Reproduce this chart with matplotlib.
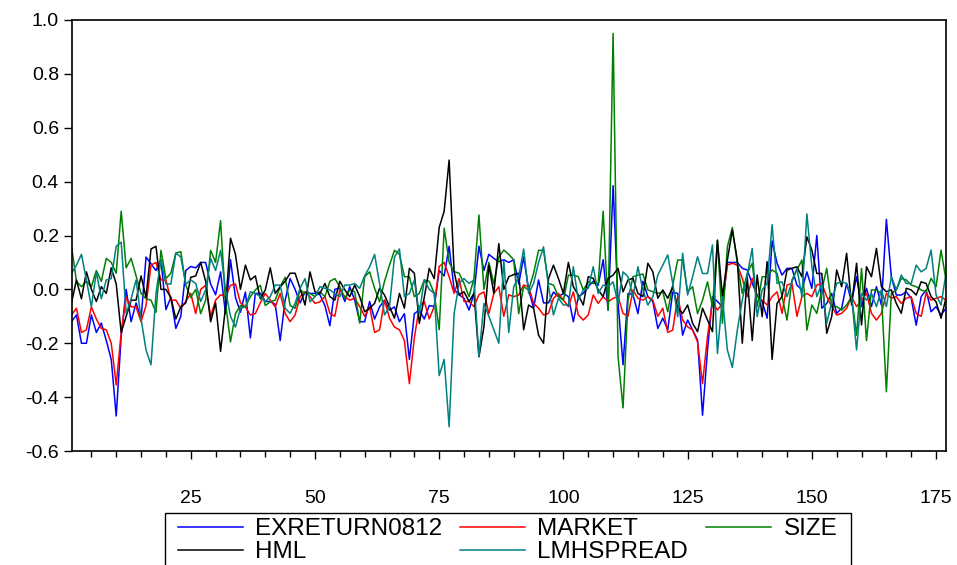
import numpy as np
import matplotlib
matplotlib.use("Agg")
import matplotlib.pyplot as plt
from matplotlib.ticker import MultipleLocator, FormatStrFormatter
from matplotlib.patches import Rectangle

plt.rcParams['font.family'] = ['Liberation Sans', 'DejaVu Sans']

exreturn0812 = [
    -0.12, -0.095, -0.20, -0.20, -0.095, -0.16, -0.125, -0.19, -0.26, -0.47, -0.175, 0.0, -0.12, -0.05, -0.11, 0.12, 0.095, 0.07, 0.11, -0.075, -0.03, -0.145,
    -0.10, 0.07, 0.085, 0.08, 0.10, 0.10, 0.02, -0.02, 0.065, -0.09, 0.11, -0.03, -0.085, -0.01, -0.18, -0.015, -0.015, -0.045, -0.045, -0.055, -0.19, -0.04,
    0.04, 0.0, -0.05, -0.01, -0.015, -0.015, -0.02, -0.06, -0.135, 0.0, 0.005, -0.045, 0.01, -0.04, -0.12, -0.12, -0.045, -0.11, -0.065, -0.04, -0.077, -0.065,
    -0.12, -0.09, -0.26, -0.09, -0.077, -0.11, -0.06, -0.064, 0.07, 0.05, 0.16, 0.0, -0.02, -0.033, -0.077, -0.015, 0.16, 0.07, 0.13, 0.115, 0.103, 0.11, 0.10,
    0.11, 0.02, 0.12, 0.0, -0.07, 0.035, -0.05, -0.05, -0.01, -0.027, -0.015, -0.027, -0.12, -0.027, -0.015, 0.01, 0.03, 0.015, 0.11, -0.077, 0.385, -0.05,
    -0.28, -0.015, -0.02, -0.09, 0.03, -0.027, -0.045, -0.145, -0.107, -0.15, -0.01, -0.015, -0.17, -0.114, -0.15, -0.188, -0.467, -0.225, -0.027, -0.045, -0.064, 0.10,
    0.10, 0.10, 0.078, 0.072, 0.022, -0.021, -0.045, -0.107, 0.18, 0.097, 0.053, 0.078, 0.078, 0.016, -0.002, 0.065, 0.004, 0.20, -0.07, -0.052, -0.015, -0.089,
    -0.07, 0.022, -0.046, 0.047, -0.064, 0.004, -0.064, 0.01, -0.058, 0.26, 0.047, -0.021, -0.021, -0.009, -0.033, -0.133, -0.027, -0.002, -0.083, -0.064, -0.095, -0.07,
]

market = [
    -0.095, -0.07, -0.16, -0.15, -0.065, -0.11, -0.145, -0.15, -0.20, -0.355, -0.16, -0.03, -0.065, -0.065, -0.12, -0.06, 0.09, 0.10, 0.035, 0.035, -0.04, -0.04,
    -0.07, -0.045, -0.015, -0.09, 0.0, 0.015, -0.10, -0.04, -0.02, -0.027, 0.015, 0.02, -0.05, -0.065, -0.095, -0.09, -0.05, -0.015, -0.04, -0.065, -0.015, -0.09,
    -0.12, -0.095, -0.027, -0.009, -0.027, -0.052, -0.046, -0.027, -0.089, -0.10, 0.0, -0.027, -0.04, -0.033, -0.064, -0.10, -0.064, -0.16, -0.15, -0.04, -0.107, -0.14,
    -0.15, -0.19, -0.35, -0.18, -0.064, -0.045, -0.11, -0.064, 0.085, 0.10, 0.047, -0.015, 0.04, -0.045, -0.045, -0.064, -0.02, -0.009, -0.09, -0.015, 0.01, -0.10, -0.02,
    -0.027, -0.021, 0.016, 0.01, -0.052, -0.07, -0.095, -0.089, -0.033, -0.015, -0.04, -0.064, -0.009, -0.095, -0.114, -0.095, -0.021, -0.052, -0.027, -0.046, -0.033, -0.027,
    -0.089, -0.10, -0.002, -0.033, -0.04, -0.027, -0.04, -0.10, -0.07, -0.16, -0.151, -0.027, -0.114, -0.139, -0.151, -0.195, -0.35, -0.175, -0.046, -0.077, -0.052, 0.09,
    0.097, 0.09, 0.041, -0.027, 0.041, -0.027, -0.04, -0.058, -0.027, -0.009, -0.089, 0.016, 0.022, -0.10, -0.027, -0.015, -0.027, 0.016, 0.022, -0.027, -0.064, -0.095,
    -0.089, -0.07, -0.027, -0.064, -0.04, -0.015, -0.089, -0.114, -0.089, -0.015, -0.033, -0.027, -0.052, -0.033, -0.027, -0.089, -0.10, -0.015, -0.04, -0.033, -0.027, -0.04,
]

size = [
    0.16, 0.03, 0.01, 0.03, 0.01, 0.07, 0.03, 0.115, 0.10, 0.06, 0.29, 0.08, 0.115, 0.05, -0.015, -0.035, -0.04, -0.085, 0.145, 0.04, 0.06, 0.135,
    0.14, 0.015, -0.03, 0.0, -0.09, -0.04, 0.145, 0.10, 0.255, -0.05, -0.195, -0.09, -0.06, -0.065, -0.027, -0.002, 0.015, -0.06, -0.046, -0.04, 0.01, 0.045,
    -0.06, -0.07, -0.002, -0.015, -0.015, -0.027, -0.009, -0.027, 0.03, 0.04, 0.01, -0.033, -0.002, -0.009, -0.125, 0.047, 0.065, 0.004, -0.046, 0.03, 0.09, 0.145,
    0.13, 0.047, 0.047, -0.027, -0.015, 0.035, 0.03, -0.015, -0.15, 0.227, 0.10, 0.066, 0.06, 0.022, -0.027, 0.04, 0.276, 0.0, 0.10, 0.02, 0.12, 0.146, 0.13,
    0.11, -0.09, 0.01, -0.002, 0.06, 0.145, 0.145, 0.022, 0.016, -0.027, -0.04, 0.053, 0.053, 0.047, -0.002, 0.028, 0.022, 0.022, 0.29, -0.077, 0.95, -0.25,
    -0.44, -0.04, 0.047, 0.053, 0.057, -0.002, -0.009, -0.015, -0.009, -0.083, 0.016, 0.109, 0.109, -0.009, 0.01, -0.09, -0.04, 0.028, -0.064, 0.182, -0.126, 0.158,
    0.23, 0.097, -0.015, 0.06, 0.097, -0.064, 0.047, 0.047, 0.072, 0.06, -0.027, -0.114, 0.035, 0.072, 0.109, -0.151, -0.058, -0.089, -0.002, 0.078, -0.064, -0.064,
    -0.077, -0.058, -0.027, -0.17, 0.078, -0.19, -0.002, -0.002, -0.015, -0.38, -0.015, -0.002, 0.041, 0.035, 0.016, 0.01, -0.002, -0.009, 0.041, 0.01, 0.146, 0.035,
]

hml = [
    -0.05, 0.035, -0.035, 0.065, 0.0, -0.045, 0.01, -0.015, 0.08, 0.02, -0.16, -0.10, -0.04, -0.04, 0.05, -0.03, 0.15, 0.16, 0.0, 0.0, -0.03, -0.11,
    -0.065, -0.05, 0.045, 0.05, 0.10, 0.03, -0.12, -0.05, -0.23, -0.065, 0.19, 0.13, 0.0, 0.09, 0.035, 0.05, -0.035, -0.002, 0.08, -0.015, 0.01, 0.03,
    0.06, 0.06, 0.004, -0.058, 0.065, -0.009, -0.015, 0.022, -0.027, -0.04, 0.03, -0.002, -0.027, 0.016, -0.027, -0.083, -0.07, -0.052, 0.004, -0.021, -0.064, -0.107,
    -0.015, -0.07, 0.078, 0.06, -0.126, -0.03, 0.078, 0.04, 0.23, 0.29, 0.48, 0.066, -0.02, -0.009, -0.045, -0.015, -0.25, -0.14, 0.09, -0.015, 0.17, 0.0, 0.047,
    0.055, 0.06, -0.15, -0.058, -0.07, -0.17, -0.20, 0.04, 0.09, 0.04, -0.015, 0.10, 0.01, -0.021, -0.058, 0.047, 0.041, -0.002, -0.027, 0.041, 0.053, 0.078,
    -0.009, 0.035, 0.041, -0.015, -0.027, 0.097, 0.065, -0.033, -0.002, -0.033, 0.01, -0.07, -0.089, -0.058, -0.126, -0.157, -0.07, -0.114, -0.157, 0.183, -0.027, 0.109,
    0.22, 0.109, -0.20, 0.047, -0.19, 0.053, -0.101, 0.103, -0.26, -0.052, -0.027, 0.072, 0.078, 0.084, 0.047, 0.195, 0.146, 0.059, 0.059, -0.163, -0.101, 0.072,
    0.01, 0.134, -0.058, 0.097, -0.132, 0.084, 0.047, 0.152, 0.01, -0.009, -0.002, -0.052, -0.089, 0.004, -0.002, -0.021, 0.028, 0.022, -0.027, -0.046, -0.107, -0.033,
]

lmhspread = [
    0.06, 0.09, 0.13, 0.035, -0.065, 0.065, -0.035, 0.035, 0.04, 0.16, 0.175, -0.09, -0.035, 0.035, -0.11, -0.225, -0.28, -0.015, 0.11, 0.02, 0.02, 0.135,
    0.12, 0.02, 0.035, 0.022, -0.045, -0.002, 0.115, 0.07, 0.145, -0.002, -0.10, -0.14, -0.07, -0.065, -0.009, -0.015, -0.027, -0.045, -0.027, 0.016, 0.016, -0.07,
    -0.089, -0.052, 0.004, 0.04, -0.046, -0.027, 0.01, 0.004, -0.002, -0.015, -0.027, 0.016, 0.016, 0.022, 0.004, 0.05, 0.084, 0.13, 0.022, -0.095, -0.064, 0.12,
    0.15, -0.027, -0.015, 0.035, -0.09, 0.035, 0.0, -0.015, -0.32, -0.26, -0.51, -0.09, 0.022, 0.04, 0.022, 0.035, -0.25, -0.052, -0.10, -0.15, -0.20, 0.11, -0.16,
    0.01, 0.047, 0.15, -0.015, 0.022, 0.10, 0.158, 0.01, -0.095, -0.033, -0.058, -0.058, 0.084, -0.04, -0.002, 0.004, 0.084, -0.015, 0.016, 0.01, 0.028, -0.052,
    0.065, 0.047, -0.027, 0.084, -0.002, -0.058, -0.027, 0.053, 0.09, 0.128, 0.022, -0.101, 0.134, -0.021, 0.047, 0.121, 0.059, 0.059, 0.165, -0.238, -0.027, -0.225,
    -0.29, -0.151, -0.04, 0.053, 0.152, -0.101, -0.002, 0.022, 0.24, 0.022, 0.028, -0.027, 0.028, 0.078, -0.027, 0.28, 0.084, -0.027, 0.022, -0.126, -0.046, 0.022,
    0.028, 0.022, -0.027, -0.225, -0.015, -0.04, -0.015, -0.064, -0.002, -0.064, 0.047, -0.002, 0.053, 0.022, 0.022, 0.09, 0.065, 0.078, 0.146, -0.021, -0.058, 0.06,
]

series_names = ["EXRETURN0812", "MARKET", "SIZE", "HML", "LMHSPREAD"]
series_values = [exreturn0812, market, size, hml, lmhspread]
series_colors = ["#0000FF", "#FF0000", "#008000", "#000000", "#008080"]
x_major_ticks = [25, 50, 75, 100, 125, 150, 175]

W, H = 957, 565
fig = plt.figure(figsize=(W / 100, H / 100), dpi=100)
ax = fig.add_axes([71.5 / W, 1 - 451 / H, (946 - 71.5) / W, (451 - 20) / H])

lines = {}
for name, vals, col in zip(series_names, series_values, series_colors):
    xs = np.arange(1, len(vals) + 1)
    ln, = ax.plot(xs, vals, color=col, lw=1.1, label=name)
    lines[name] = ln

n = max(len(v) for v in series_values)
ax.set_xlim(1, n)
ax.set_ylim(-0.6, 1.0)
ax.yaxis.set_major_locator(MultipleLocator(0.2))
ax.yaxis.set_major_formatter(FormatStrFormatter('%.1f'))
ax.set_xticks(x_major_ticks)
ax.xaxis.set_minor_locator(MultipleLocator(5))
ax.tick_params(axis='both', which='major', direction='out', length=6, width=1, labelsize=14, colors='black')
ax.tick_params(axis='x', which='minor', direction='out', length=4, width=1)
ax.tick_params(axis='y', which='major', pad=3)
ax.tick_params(axis='x', which='major', pad=22)
for s in ax.spines.values():
    s.set_linewidth(1.2)
    s.set_color('black')

# legend frame (extends past the bottom edge, as in the reference)
fig.patches.append(Rectangle((165 / W, 1 - 580 / H), (851 - 165) / W, (580 - 513) / H,
                             transform=fig.transFigure, fill=False, edgecolor='black',
                             linewidth=1.0, clip_on=False))

order = ["EXRETURN0812", "HML", "MARKET", "LMHSPREAD", "SIZE"]
leg = fig.legend([lines[k] for k in order], order, loc='upper left',
                 bbox_to_anchor=(178 / W, 1 - 518 / H), ncol=3,
                 fontsize=17.5, frameon=False,
                 handlelength=2.67, handletextpad=0.5, columnspacing=0.75,
                 borderpad=0, labelspacing=0.06, borderaxespad=0)

fig.savefig("out.png", dpi=100)
